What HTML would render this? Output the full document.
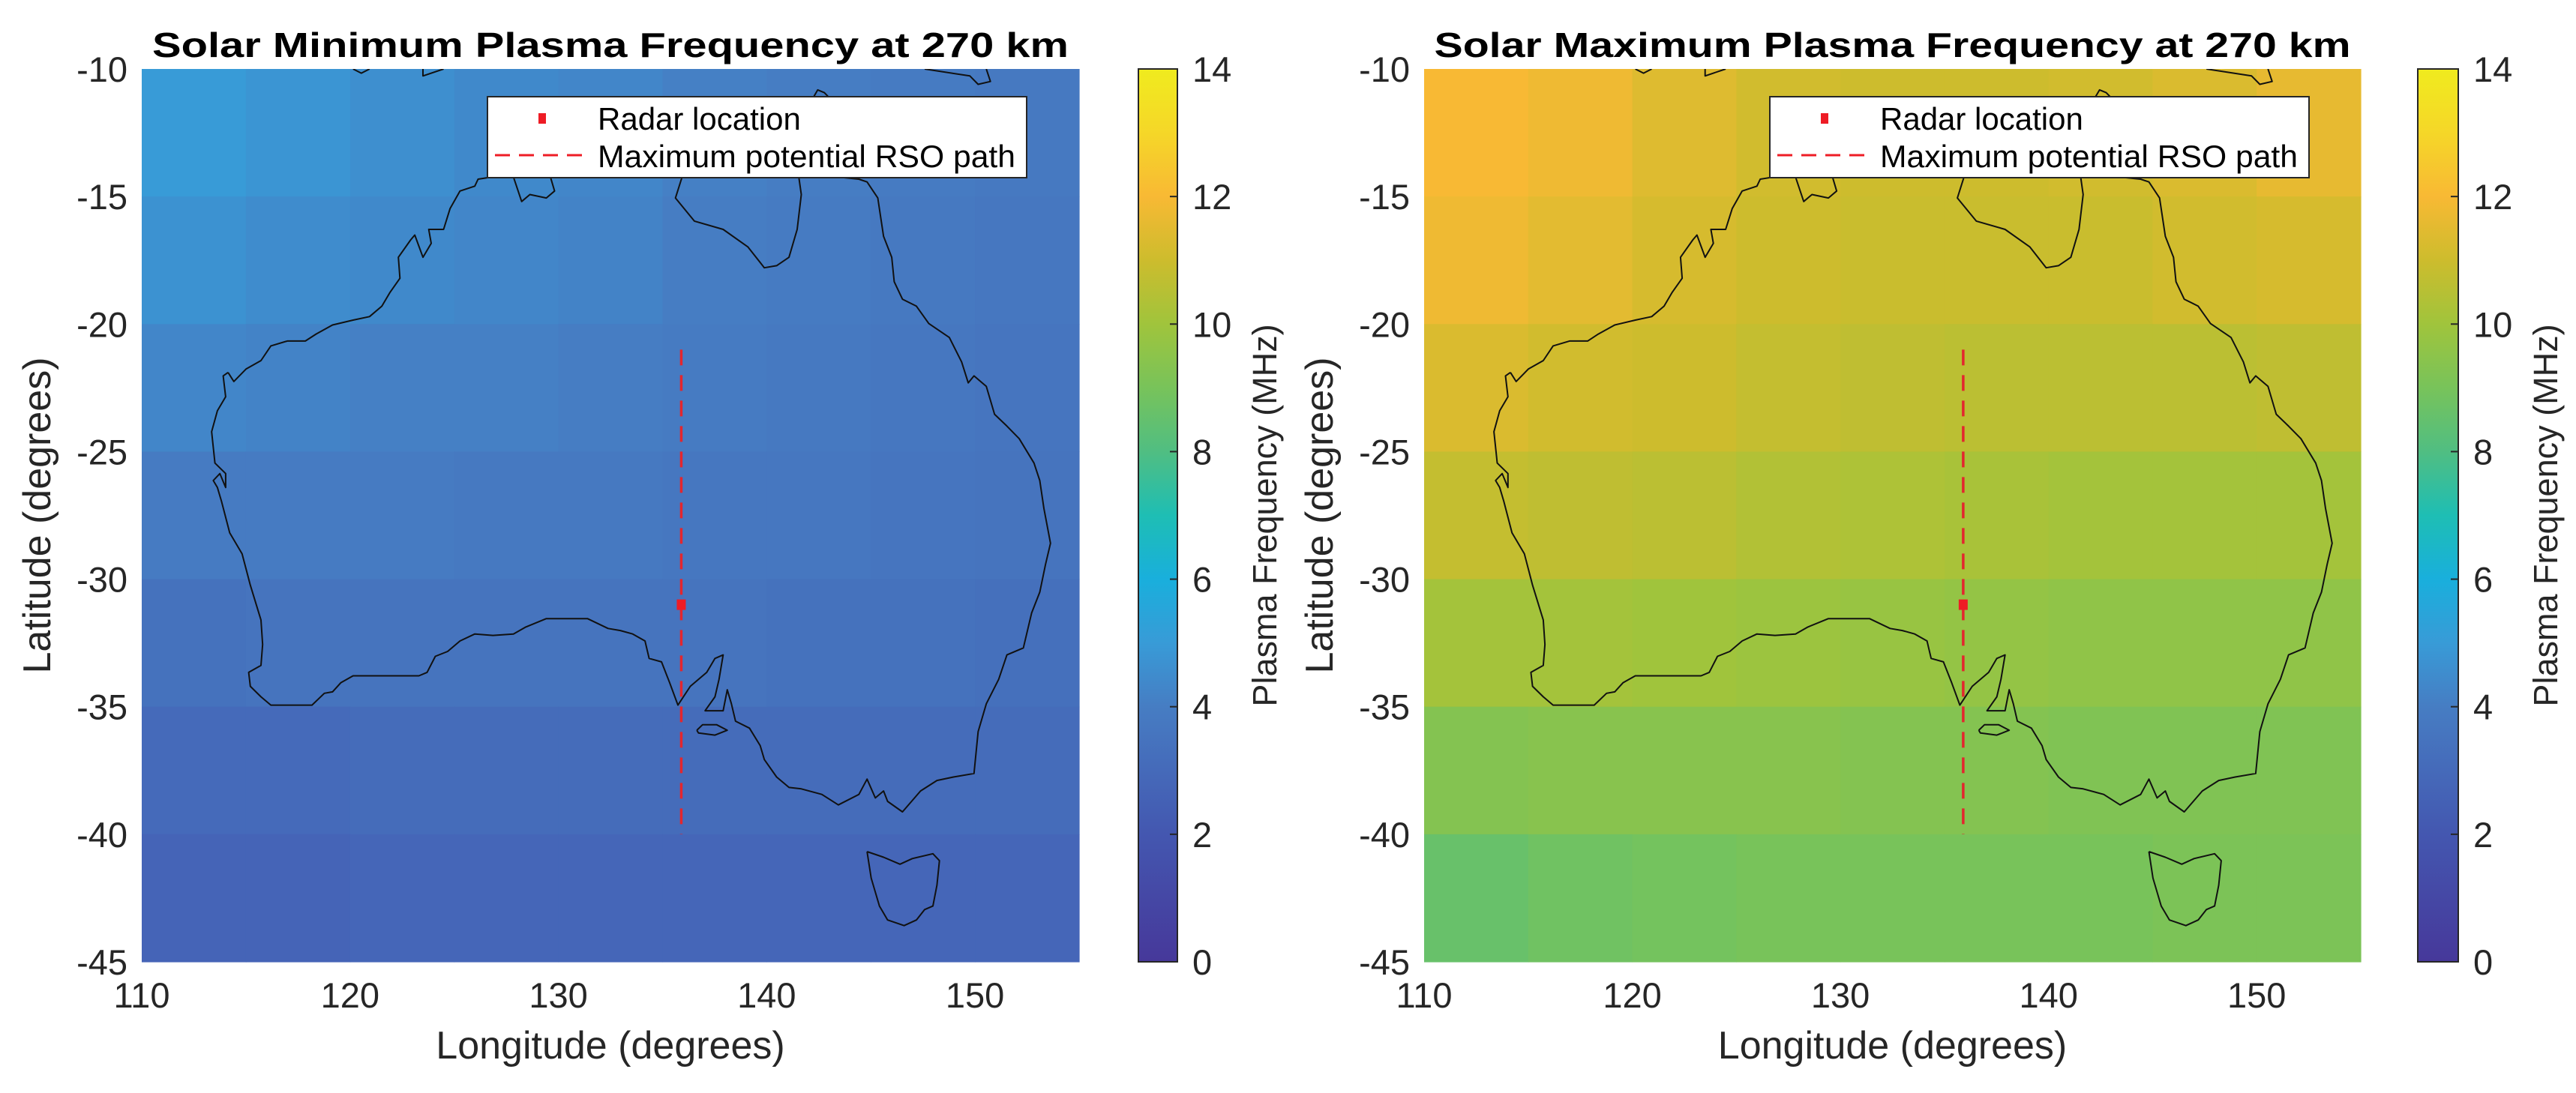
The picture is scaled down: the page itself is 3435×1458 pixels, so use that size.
<!DOCTYPE html>
<html><head><meta charset="utf-8"><style>
html,body{margin:0;padding:0;background:#fff;}
svg{display:block;font-family:"Liberation Sans",sans-serif;}
</style></head><body>
<svg id="fig" width="3435" height="1458" viewBox="0 0 3435 1458" xmlns="http://www.w3.org/2000/svg">
<defs>
<linearGradient id="parula" x1="0" y1="1" x2="0" y2="0">
<stop offset="0" stop-color="rgb(70,56,154)"/>
<stop offset="0.1429" stop-color="rgb(68,87,176)"/>
<stop offset="0.2857" stop-color="rgb(70,125,195)"/>
<stop offset="0.3571" stop-color="rgb(56,155,215)"/>
<stop offset="0.4286" stop-color="rgb(25,175,220)"/>
<stop offset="0.5" stop-color="rgb(30,190,180)"/>
<stop offset="0.5714" stop-color="rgb(80,190,130)"/>
<stop offset="0.6429" stop-color="rgb(120,195,90)"/>
<stop offset="0.7143" stop-color="rgb(160,196,60)"/>
<stop offset="0.7857" stop-color="rgb(205,188,45)"/>
<stop offset="0.8571" stop-color="rgb(248,185,52)"/>
<stop offset="0.9286" stop-color="rgb(245,215,40)"/>
<stop offset="1" stop-color="rgb(240,235,30)"/>
</linearGradient>
</defs>
</svg>
<script>
// ---- data ----
const lonEdges = [110,115,120,125,130,135,140,145,150,155];
const latEdges = [-10,-15,-20,-25,-30,-35,-40,-45];
const solarMinValues = [
 [5.0,4.8,4.6,4.4,4.3,4.1,4.0,3.9,3.8],
 [4.7,4.5,4.4,4.3,4.2,4.0,3.9,3.8,3.7],
 [4.3,4.2,4.1,4.1,4.0,3.9,3.8,3.7,3.6],
 [3.9,3.9,3.9,3.8,3.8,3.7,3.7,3.6,3.5],
 [3.4,3.5,3.5,3.5,3.5,3.5,3.4,3.4,3.3],
 [3.0,3.0,3.1,3.1,3.1,3.1,3.1,3.1,3.1],
 [2.7,2.7,2.8,2.8,2.8,2.8,2.8,2.8,2.8]
];
const solarMaxValues = [
 [12.0,11.8,11.4,11.1,11.0,11.0,11.1,11.3,11.6],
 [11.8,11.5,11.2,11.0,10.9,10.9,10.9,11.1,11.2],
 [11.3,11.1,11.0,10.8,10.7,10.6,10.6,10.6,10.7],
 [10.8,10.7,10.6,10.4,10.3,10.2,10.1,10.1,10.1],
 [10.1,10.1,10.0,9.9,9.8,9.7,9.6,9.6,9.6],
 [9.3,9.4,9.4,9.4,9.3,9.3,9.2,9.2,9.2],
 [8.6,8.8,8.9,9.0,9.0,9.0,9.0,9.1,9.1]
];
const xTicks = [110,120,130,140,150];
const yTicks = [-10,-15,-20,-25,-30,-35,-40,-45];
const cbTicks = [0,2,4,6,8,10,12,14];
const radarLon = [135.9];
const radarLat = [-31];
const pathLon = [135.9,135.9];
const pathLat = [-21,-40];
const titles = ["Solar Minimum Plasma Frequency at 270 km","Solar Maximum Plasma Frequency at 270 km"];
const mainTrace = [[278,535],[285,548],[300,530],[318,518],[330,497],[350,490],[372,490],[385,480],[405,467],[430,460],[450,455],[465,440],[475,420],[487,400],[485,370],[500,345],[505,338],[515,370],[525,350],[522,330],[540,330],[548,300],[560,275],[578,268],[582,258],[598,255],[625,255],[635,290],[645,280],[665,285],[675,275],[670,255],[830,255],[822,285],[845,318],[880,330],[910,355],[930,385],[945,382],[960,370],[970,330],[975,280],[972,255],[1020,255],[1045,258],[1055,262],[1068,285],[1075,340],[1085,370],[1088,405],[1098,430],[1115,440],[1130,465],[1155,485],[1170,520],[1178,550],[1185,540],[1200,555],[1210,595],[1225,612],[1240,630],[1258,665],[1265,690],[1270,730],[1278,780],[1272,810],[1265,850],[1255,880],[1245,930],[1225,940],[1215,975],[1200,1010],[1190,1050],[1185,1110],[1160,1115],[1140,1120],[1120,1135],[1098,1165],[1080,1150],[1075,1135],[1065,1145],[1055,1118],[1045,1140],[1020,1155],[1000,1140],[975,1132],[960,1130],[945,1115],[930,1090],[925,1070],[912,1045],[895,1035],[890,1010],[885,990],[880,1020],[858,1020],[870,1000],[875,975],[880,940],[870,945],[860,965],[840,985],[825,1012],[815,980],[805,950],[790,945],[785,920],[770,910],[755,905],[740,902],[715,888],[690,888],[665,888],[640,900],[625,910],[600,912],[578,910],[560,920],[545,935],[530,942],[520,965],[510,970],[480,970],[430,970],[415,980],[405,993],[395,995],[380,1012],[330,1012],[318,1000],[305,985],[303,965],[318,955],[320,925],[318,890],[305,840],[295,795],[280,765],[270,720],[265,700],[260,690],[268,680],[275,700],[275,680],[262,665],[258,620],[265,590],[275,570],[272,540],[278,535]];
const kiTrace = [[848,1048],[855,1040],[872,1040],[885,1048],[870,1055],[850,1052],[848,1048]];
const tasTrace = [[1055,1222],[1075,1230],[1095,1240],[1110,1232],[1135,1225],[1143,1235],[1140,1270],[1135,1300],[1125,1305],[1115,1320],[1100,1328],[1080,1320],[1070,1300],[1060,1260],[1055,1222]];
const ngTrace = [[1125,100],[1180,110],[1190,122],[1205,118],[1200,100]];
const tim1Trace = [[430,100],[440,106],[450,100]];
const tim2Trace = [[515,100],[515,110],[540,100]];
const bumpTrace = [[990,140],[995,130],[1003,134],[1008,140]];

const NS = "http://www.w3.org/2000/svg";
const svgRoot = document.getElementById('fig');
function mk(tag, attrs, parent){const e=document.createElementNS(NS,tag);for(const k in attrs)e.setAttribute(k,attrs[k]);(parent||svgRoot).appendChild(e);return e;}
function traceToGeo(t){return t.map(p=>[110+(p[0]-173)/25.33, -10-(p[1]-100)/36.57]);}

const cmapStops=[[0,[70,56,154]],[2,[68,87,176]],[4,[70,125,195]],[5,[56,155,215]],[6,[25,175,220]],[7,[30,190,180]],[8,[80,190,130]],[9,[120,195,90]],[10,[160,196,60]],[11,[205,188,45]],[12,[248,185,52]],[13,[245,215,40]],[14,[240,235,30]]];
function cmap(v){v=Math.max(0,Math.min(14,v));for(let i=0;i<cmapStops.length-1;i++){const a=cmapStops[i],b=cmapStops[i+1];if(v<=b[0]){const t=(v-a[0])/(b[0]-a[0]);const c=a[1].map((x,j)=>Math.round(x+(b[1][j]-x)*t));return 'rgb('+c.join(',')+')';}}return 'rgb(240,235,30)';}

const panels=[{x:189,w:1250,cb:1518,cbw:52,vals:solarMinValues,name:'solar-min'},{x:1899,w:1249,cb:3224,cbw:54,vals:solarMaxValues,name:'solar-max'}];
const axTop=92, axH=1191;

panels.forEach((P,pi)=>{
  const g=mk('g',{});
  
  
  const X=lon=>P.x+(lon-110)/45*P.w;
  const Y=lat=>axTop+(-10-lat)/35*axH;
  const clipId='clip'+pi;
  const cp=mk('clipPath',{id:clipId},g);mk('rect',{x:P.x,y:axTop,width:P.w,height:axH},cp);
  const hm=mk('g',{},g);
  
  
  P.vals.forEach((row,r)=>row.forEach((v,c)=>{
    const x0=X(lonEdges[c]),x1=X(lonEdges[c+1]),y0=Y(latEdges[r]),y1=Y(latEdges[r+1]);
    const cell=mk('rect',{x:x0,y:y0,width:x1-x0+0.6,height:y1-y0+0.6,fill:cmap(v)},hm);
    
    
  }));
  const coast=mk('g',{'clip-path':'url(#'+clipId+')'},g);
  
  
  [mainTrace,kiTrace,tasTrace,ngTrace,tim1Trace,tim2Trace,bumpTrace].forEach(t=>{
    const pts=traceToGeo(t).map(p=>X(p[0]).toFixed(1)+','+Y(p[1]).toFixed(1)).join(' ');
    mk('polyline',{points:pts,fill:'none',stroke:'#111','stroke-width':2,'stroke-linejoin':'round'},coast);
  });
  const path=mk('line',{x1:X(pathLon[0]),y1:Y(pathLat[0]),x2:X(pathLon[1]),y2:Y(pathLat[1]),stroke:'#e3262e','stroke-width':3.5,'stroke-dasharray':'21 13'},g);
  
  
  const rad=mk('rect',{x:X(radarLon[0])-6,y:Y(radarLat[0])-7,width:12,height:14,fill:'#ee1c25'},g);
  
  
  xTicks.forEach(t=>{const e=mk('text',{x:X(t),y:1344,'font-size':47,'text-anchor':'middle',fill:'#262626'},g);e.textContent=t;
    
    });
  yTicks.forEach(t=>{const e=mk('text',{x:P.x-19,y:Y(t)+17,'font-size':47,'text-anchor':'end',fill:'#262626'},g);e.textContent=t;
    
    });
  const xl=mk('text',{x:P.x+P.w/2,y:1412,'font-size':52,'text-anchor':'middle',fill:'#262626'},g);xl.textContent='Longitude (degrees)';
  
  
  const yl=mk('text',{x:0,y:0,'font-size':52,'text-anchor':'middle',fill:'#262626',transform:'translate('+(P.x-122)+','+(axTop+axH/2)+') rotate(-90)'},g);yl.textContent='Latitude (degrees)';
  
  
  const tt=mk('text',{x:P.x+P.w/2,y:76,'font-size':46,'font-weight':'bold','text-anchor':'middle',fill:'#000',textLength:1222,lengthAdjust:'spacingAndGlyphs'},g);tt.textContent=titles[pi];
  
  
  const lg=mk('g',{},g);
  
  
  const lx=P.x+461;
  mk('rect',{x:lx,y:129,width:719,height:108,fill:'#fff',stroke:'#262626','stroke-width':2},lg);
  mk('rect',{x:lx+68,y:151,width:10,height:14,fill:'#ee1c25'},lg);
  mk('line',{x1:lx+10,y1:207,x2:lx+126,y2:207,stroke:'#ee1c25','stroke-width':3,'stroke-dasharray':'20 12'},lg);
  const l1=mk('text',{x:lx+147,y:173,'font-size':42,fill:'#000'},lg);l1.textContent='Radar location';
  
  
  const l2=mk('text',{x:lx+147,y:223,'font-size':42,fill:'#000',textLength:557,lengthAdjust:'spacingAndGlyphs'},lg);l2.textContent='Maximum potential RSO path';
  
  
  const cb=mk('g',{},g);
  
  
  mk('rect',{x:P.cb,y:axTop,width:P.cbw,height:axH,fill:'url(#parula)',stroke:'#262626','stroke-width':2},cb);
  const CY=v=>axTop+axH-(v/14)*axH;
  cbTicks.forEach(t=>{
    mk('line',{x1:P.cb+P.cbw-10,y1:CY(t),x2:P.cb+P.cbw,y2:CY(t),stroke:'#262626','stroke-width':2},cb);
    const e=mk('text',{x:P.cb+P.cbw+20,y:CY(t)+17,'font-size':47,fill:'#262626'},cb);e.textContent=t;
    
    
  });
  const cl=mk('text',{x:0,y:0,'font-size':45,'text-anchor':'middle',fill:'#262626',transform:'translate('+(P.cb+P.cbw+132)+','+(axTop+axH/2)+') rotate(-90)'},cb);cl.textContent='Plasma Frequency (MHz)';
  
  
});
</script>
</body></html>
